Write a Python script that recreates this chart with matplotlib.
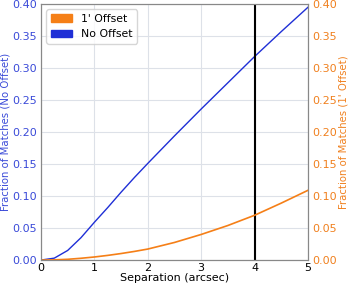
import numpy as np
import matplotlib.pyplot as plt
from matplotlib.patches import Patch

sep = [0, 0.25, 0.5, 0.75, 1.0, 1.25, 1.5, 1.75, 2.0, 2.5, 3.0, 3.5, 4.0, 4.5, 5.0]
no_offset = [0, 0.003, 0.015, 0.035, 0.059, 0.082, 0.106, 0.129, 0.151, 0.194, 0.236, 0.277, 0.318, 0.357, 0.395]
offset_1 = [0, 0.0003, 0.0012, 0.0028, 0.0048, 0.0073, 0.0102, 0.0135, 0.0172, 0.0275, 0.040, 0.054, 0.070, 0.089, 0.109]

blue = '#1f2fd6'
orange = '#f57f17'
blue_txt = '#3a4ad8'
orange_txt = '#f0801e'

plt.rcParams['font.family'] = 'DejaVu Sans'
fig, ax = plt.subplots(figsize=(3.5, 2.88), dpi=100)
ax2 = ax.twinx()

ax.plot(sep, no_offset, color=blue, lw=1)
ax2.plot(sep, offset_1, color=orange, lw=1.2)
ax.axvline(4, color='black', lw=1.5)

for a in (ax, ax2):
    a.set_xlim(0, 5)
    a.set_ylim(0, 0.4)
    a.set_yticks(np.arange(0, 0.41, 0.05))
    for s in a.spines.values():
        s.set_color('#888888')
ax.grid(True, color='#dde1e8', lw=0.8)
ax.set_axisbelow(True)

ax.tick_params(axis='y', colors=blue_txt, labelsize=8, length=0, pad=3)
ax.tick_params(axis='x', labelsize=8, length=0, pad=2)
ax2.tick_params(axis='y', colors=orange_txt, labelsize=8, length=0, pad=3)
ax.set_ylabel('Fraction of Matches (No Offset)', color=blue_txt, fontsize=7.3, labelpad=1)
ax2.set_ylabel("Fraction of Matches (1' Offset)", color=orange_txt, fontsize=7.3, labelpad=1)
ax.set_xlabel('Separation (arcsec)', fontsize=8, labelpad=0)

handles = [Patch(color=orange, label="1' Offset"), Patch(color=blue, label='No Offset')]
ax.legend(handles=handles, loc='upper left', fontsize=7.8)

fig.subplots_adjust(left=0.117, right=0.88, top=0.986, bottom=0.097)
fig.savefig('out.png')
